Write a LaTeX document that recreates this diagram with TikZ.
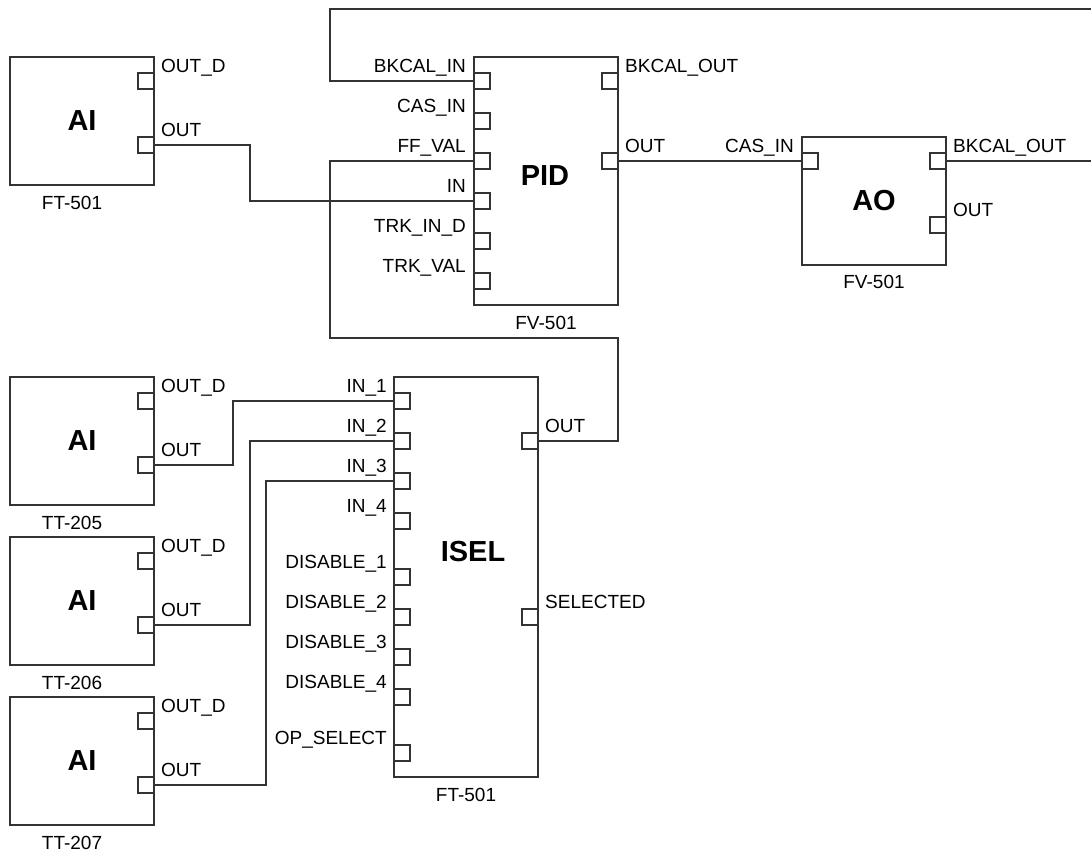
\documentclass[tikz,border=0pt]{standalone}
\usepackage{fontspec}
\setmainfont{Liberation Sans}
\usepackage{xcolor}
\usetikzlibrary{positioning}

\definecolor{wirecol}{gray}{0.2}
\newcommand{\portfont}{\fontsize{19}{22}\selectfont}
\newcommand{\namefont}{\fontsize{29}{34}\selectfont\bfseries}

\begin{document}
\begin{tikzpicture}[x=1pt, y=-1pt,
  fblock/.style={draw=wirecol, line width=1.2pt, rectangle, inner sep=0pt, outer sep=0pt, minimum width=144pt, font=\namefont},
  port/.style={draw=wirecol, line width=1.1pt, rectangle, inner sep=0pt, outer sep=0pt, minimum size=16pt},
  plbl/.style={inner sep=0pt, font=\portfont},
  tag/.style={inner sep=0pt, font=\portfont},
  wire/.style={draw=wirecol, line width=1.1pt}]
  \useasboundingbox (0,0) rectangle (1091,854);

  \node[fblock, minimum height=128pt] (ai1) at (82,121) {AI};
  \node[fblock, minimum height=128pt] (ai2) at (82,441) {AI};
  \node[fblock, minimum height=128pt] (ai3) at (82,601) {AI};
  \node[fblock, minimum height=128pt] (ai4) at (82,761) {AI};
  \foreach \b/\t in {ai1/FT-501, ai2/TT-205, ai3/TT-206, ai4/TT-207} {
    \node[port, anchor=north east] (\b-outd) at ([yshift=-16pt]\b.north east) {};
    \node[port, anchor=north east] (\b-out) at ([yshift=-80pt]\b.north east) {};
    \node[plbl, anchor=base west] (\b-outd-t) at ([xshift=7pt, yshift=1pt]\b-outd.north east) {OUT\_D};
    \node[plbl, anchor=base west] (\b-out-t) at ([xshift=7pt, yshift=1pt]\b-out.north east) {OUT};
    \node[tag, below=11pt of \b.south, xshift=-10pt] (\b-tag) {\t};
  }

  \node[fblock, minimum height=248pt] (pid) at (546,181) {};
  \node[font=\namefont] (pid-name) at (545,176) {PID};
  \foreach \p/\k/\t in {bkin/0/BKCAL\_IN, casin/1/CAS\_IN, ffval/2/FF\_VAL, in/3/IN, trkind/4/TRK\_IN\_D, trkval/5/TRK\_VAL} {
    \node[port, anchor=north west] (pid-\p) at ([yshift={-16pt-40pt*\k}]pid.north west) {};
    \node[plbl, anchor=base east] (pid-\p-t) at ([xshift=-8pt, yshift=1pt]pid-\p.north west) {\t};
  }
  \foreach \p/\d/\t in {bkout/16/BKCAL\_OUT, out/96/OUT} {
    \node[port, anchor=north east] (pid-\p) at ([yshift=-\d pt]pid.north east) {};
    \node[plbl, anchor=base west] (pid-\p-t) at ([xshift=7pt, yshift=1pt]pid-\p.north east) {\t};
  }
  \node[tag, below=11pt of pid.south] (pid-tag) {FV-501};

  \node[fblock, minimum height=128pt] (ao) at (874,201) {AO};
  \node[port, anchor=north west] (ao-casin) at ([yshift=-16pt]ao.north west) {};
  \node[plbl, anchor=base east] (ao-casin-t) at ([xshift=-8pt, yshift=1pt]ao-casin.north west) {CAS\_IN};
  \foreach \p/\d/\t in {bkout/16/BKCAL\_OUT, out/80/OUT} {
    \node[port, anchor=north east] (ao-\p) at ([yshift=-\d pt]ao.north east) {};
    \node[plbl, anchor=base west] (ao-\p-t) at ([xshift=7pt, yshift=1pt]ao-\p.north east) {\t};
  }
  \node[tag, below=10pt of ao.south] (ao-tag) {FV-501};

  \node[fblock, minimum height=400pt] (isel) at (466,577) {};
  \node[font=\namefont] (isel-name) at (473,552) {ISEL};
  \foreach \p/\d/\t in {in1/16/IN\_1, in2/56/IN\_2, in3/96/IN\_3, in4/136/IN\_4,
      dis1/192/DISABLE\_1, dis2/232/DISABLE\_2, dis3/272/DISABLE\_3, dis4/312/DISABLE\_4, opsel/368/OP\_SELECT} {
    \node[port, anchor=north west] (isel-\p) at ([yshift=-\d pt]isel.north west) {};
    \node[plbl, anchor=base east] (isel-\p-t) at ([xshift=-7pt, yshift=1pt]isel-\p.north west) {\t};
  }
  \foreach \p/\d/\t in {out/56/OUT, sel/232/SELECTED} {
    \node[port, anchor=north east] (isel-\p) at ([yshift=-\d pt]isel.north east) {};
    \node[plbl, anchor=base west] (isel-\p-t) at ([xshift=7pt, yshift=1pt]isel-\p.north east) {\t};
  }
  \node[tag, below=11pt of isel.south] (isel-tag) {FT-501};

  \coordinate (edge-top) at (1091,9);
  \coordinate (edge-bk) at (1091,161);

  \draw[wire] (ai1-out.east) -- ++(96,0) |- (pid-in.west);
  \draw[wire] (pid-bkin.west) -- ++(-144,0) |- (edge-top);
  \draw[wire] (isel-out.east) -- ++(80,0) -- ++(0,-103) -- ++(-288,0) |- (pid-ffval.west);
  \draw[wire] (pid-out.east) -- (ao-casin.west);
  \draw[wire] (ao-bkout.east) -- (edge-bk);
  \draw[wire] (ai2-out.east) -- ++(79,0) |- (isel-in1.west);
  \draw[wire] (ai3-out.east) -- ++(96,0) |- (isel-in2.west);
  \draw[wire] (ai4-out.east) -- ++(112,0) |- (isel-in3.west);
\end{tikzpicture}
\end{document}
